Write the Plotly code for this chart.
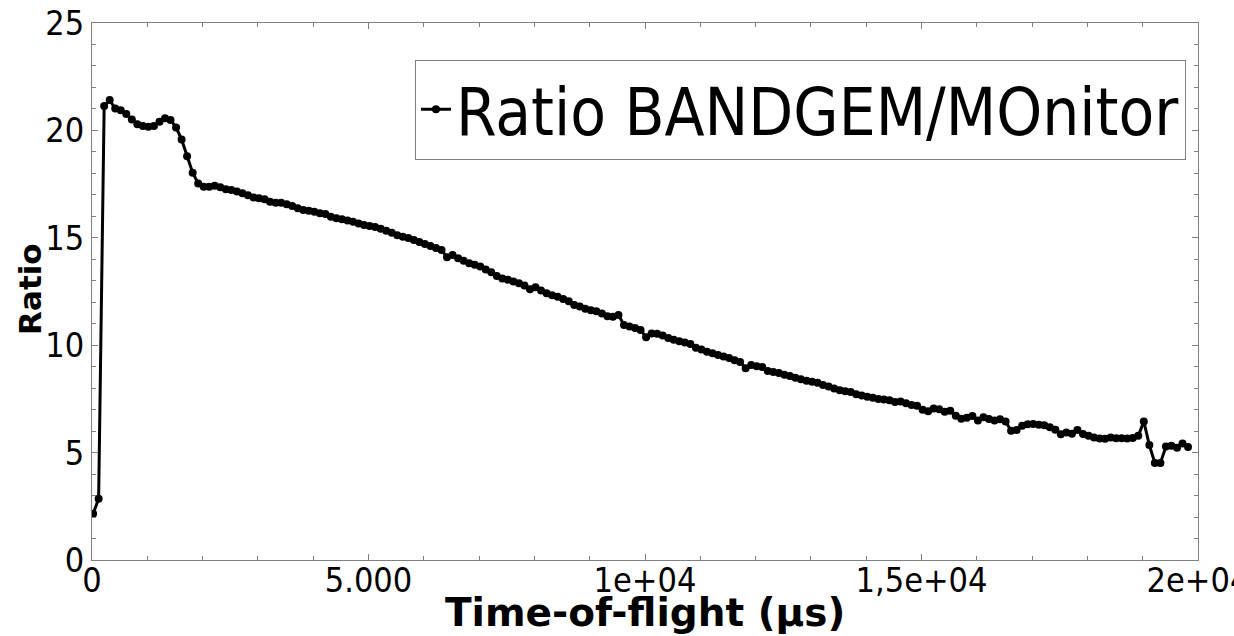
import plotly.graph_objects as go

# Time-of-flight bin grid (µs)
tof_start_us = 20
tof_step_us = 100

# Ratio values
ratio = [
    2.15, 2.85, 21.14, 21.41, 21.02, 20.94, 20.76, 20.51, 20.29, 20.20,
    20.17, 20.20, 20.40, 20.56, 20.48, 20.14, 19.58, 18.80, 18.03, 17.53,
    17.38, 17.38, 17.42, 17.35, 17.26, 17.22, 17.15, 17.07, 16.98, 16.88,
    16.84, 16.79, 16.68, 16.63, 16.63, 16.56, 16.48, 16.37, 16.29, 16.26,
    16.21, 16.14, 16.11, 15.98, 15.91, 15.86, 15.80, 15.75, 15.67, 15.60,
    15.55, 15.50, 15.42, 15.33, 15.24, 15.12, 15.05, 14.99, 14.90, 14.80,
    14.71, 14.62, 14.52, 14.43, 14.10, 14.20, 14.05, 13.93, 13.82, 13.75,
    13.66, 13.52, 13.40, 13.22, 13.10, 13.05, 12.97, 12.88, 12.78, 12.60,
    12.70, 12.55, 12.42, 12.33, 12.25, 12.15, 12.05, 11.87, 11.80, 11.70,
    11.63, 11.58, 11.48, 11.35, 11.33, 11.41, 10.94, 10.87, 10.80, 10.71,
    10.37, 10.55, 10.53, 10.45, 10.33, 10.25, 10.18, 10.12, 10.06, 9.88,
    9.80, 9.70, 9.62, 9.54, 9.47, 9.40, 9.30, 9.22, 8.93, 9.08,
    9.02, 8.98, 8.80, 8.75, 8.70, 8.62, 8.57, 8.48, 8.42, 8.35,
    8.30, 8.25, 8.15, 8.08, 7.98, 7.90, 7.86, 7.82, 7.72, 7.66,
    7.60, 7.55, 7.50, 7.47, 7.44, 7.35, 7.38, 7.30, 7.22, 7.18,
    7.00, 6.92, 7.05, 7.02, 6.90, 6.95, 6.72, 6.58, 6.62, 6.70,
    6.50, 6.64, 6.57, 6.50, 6.55, 6.45, 6.02, 6.05, 6.25, 6.32,
    6.33, 6.30, 6.27, 6.18, 6.06, 5.85, 5.93, 5.88, 6.05, 5.87,
    5.78, 5.70, 5.66, 5.64, 5.70, 5.67, 5.67, 5.66, 5.68, 5.78,
    6.45, 5.35, 4.52, 4.52, 5.28, 5.32, 5.22, 5.42, 5.26,
]
tof = [tof_start_us + tof_step_us * i for i in range(len(ratio))]

series_name = "Ratio BANDGEM/MOnitor"
x_title = "Time-of-flight (µs)"
y_title = "Ratio"
x_tickvals = [0, 5000, 10000, 15000, 20000]
x_ticktext = ["0", "5.000", "1e+04", "1,5e+04", "2e+04"]
y_tickvals = [0, 5, 10, 15, 20, 25]
y_ticktext = ["0", "5", "10", "15", "20", "25"]

FONT = "DejaVu Sans Condensed, Liberation Sans, sans-serif"
BOLD = "DejaVu Sans, Liberation Sans, sans-serif"
AXC = "#808080"

fig = go.Figure(
    go.Scatter(
        x=tof, y=ratio, mode="lines+markers", name=series_name,
        line=dict(color="black", width=3),
        marker=dict(color="black", size=8),
    )
)

axis_common = dict(
    showline=True, linecolor=AXC, linewidth=1, mirror="allticks",
    ticks="inside", ticklen=6, tickcolor=AXC, tickwidth=1,
    showgrid=False, zeroline=False, ticklabeloverflow="allow", automargin=False,
    tickfont=dict(family=FONT, size=34, color="black"),
)

fig.update_layout(
    width=1234, height=636,
    margin=dict(l=92, r=36, t=23, b=76, autoexpand=False),
    paper_bgcolor="white", plot_bgcolor="white",
    font=dict(family=FONT, color="black"),
    xaxis=dict(
        range=[0, 20000], tickmode="array", tickvals=x_tickvals, ticktext=x_ticktext,
        ticklabelstandoff=-10,
        minor=dict(dtick=1000, tick0=0, ticks="inside", ticklen=4, tickcolor=AXC, showgrid=False),
        **axis_common,
    ),
    yaxis=dict(
        range=[0, 25], tickmode="array", tickvals=y_tickvals, ticktext=y_ticktext,
        minor=dict(dtick=1, tick0=0, ticks="inside", ticklen=4, tickcolor=AXC, showgrid=False),
        **axis_common,
    ),
    legend=dict(
        x=0.292, y=0.932, xanchor="left", yanchor="top",
        bordercolor=AXC, borderwidth=1, bgcolor="white",
        font=dict(family=FONT, size=65, color="black"),
    ),
    showlegend=True,
    annotations=[
        dict(text="<b>" + x_title + "</b>", xref="paper", yref="paper",
             x=0.5, y=-0.053, xanchor="center", yanchor="top", showarrow=False,
             font=dict(family=BOLD, size=39, color="black")),
        dict(text="<b>" + y_title + "</b>", xref="paper", yref="paper",
             x=-0.056, y=0.505, xanchor="center", yanchor="middle", showarrow=False,
             textangle=-90, font=dict(family=BOLD, size=31, color="black")),
    ],
)

fig.write_html("out.html")
